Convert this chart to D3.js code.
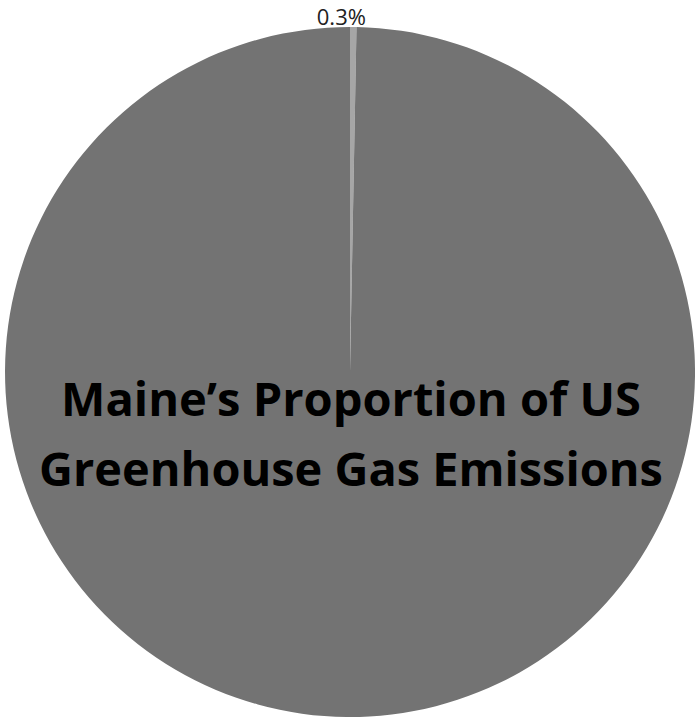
<!DOCTYPE html>
<html>
<head>
<meta charset="utf-8">
<script src="https://cdn.jsdelivr.net/npm/d3@7"></script>
<style>
  body { margin: 0; background: #fff; }
  svg { display: block; }
</style>
</head>
<body>
<div id="pie"></div>
<script>
// data
const labels = ["Maine", "Rest of US"];
const shares = [0.3, 99.7];
const sliceColors = ["#a6a6a6", "#737373"];
const titleLines = ["Maine\u2019s Proportion of US", "Greenhouse Gas Emissions"];

const width = 695, height = 718;
const radius = 345;
const cx = 350, cy = 372;

const svg = d3.select("#pie")
  .append("svg")
  .attr("width", width)
  .attr("height", height);

const g = svg.append("g")
  .attr("transform", `translate(${cx},${cy})`);

const data = labels.map((l, i) => ({ label: l, value: shares[i] }));

const pie = d3.pie()
  .value(d => d.value)
  .sort(null);

const arc = d3.arc().innerRadius(0).outerRadius(radius);
const labelArc = d3.arc().innerRadius(radius + 10).outerRadius(radius + 10);

const color = d3.scaleOrdinal().domain(labels).range(sliceColors);

const arcs = pie(data);

g.selectAll("path")
  .data(arcs)
  .join("path")
  .attr("d", arc)
  .attr("fill", d => color(d.data.label));

// only the small slice gets a label
g.selectAll("text.pct")
  .data(arcs.filter(d => d.data.label === "Maine"))
  .join("text")
  .attr("class", "pct")
  .attr("transform", d => `translate(${labelArc.centroid(d)})`)
  .attr("dx", -12)
  .attr("dy", "0.36em")
  .attr("text-anchor", "middle")
  .style("font-family", "Open Sans, sans-serif")
  .style("font-size", "22px")
  .style("fill", "#222")
  .text(d => d3.format(".1f")(d.data.value) + "%");

// title in the middle of the pie
const title = svg.append("g");
const lineTargets = [
  { x: 351, y: 416, w: 580 },
  { x: 351, y: 486, w: 624 }
];
title.selectAll("text")
  .data(titleLines)
  .join("text")
  .attr("x", (d, i) => lineTargets[i].x)
  .attr("y", (d, i) => lineTargets[i].y)
  .attr("text-anchor", "middle")
  .style("font-family", "Open Sans, sans-serif")
  .style("font-weight", 700)
  .style("font-size", "46px")
  .style("fill", "#000")
  .text(d => d)
  .each(function (d, i) {
    const len = this.getComputedTextLength();
    const s = 46 * lineTargets[i].w / len;
    d3.select(this).style("font-size", s + "px");
  });
</script>
</body>
</html>
